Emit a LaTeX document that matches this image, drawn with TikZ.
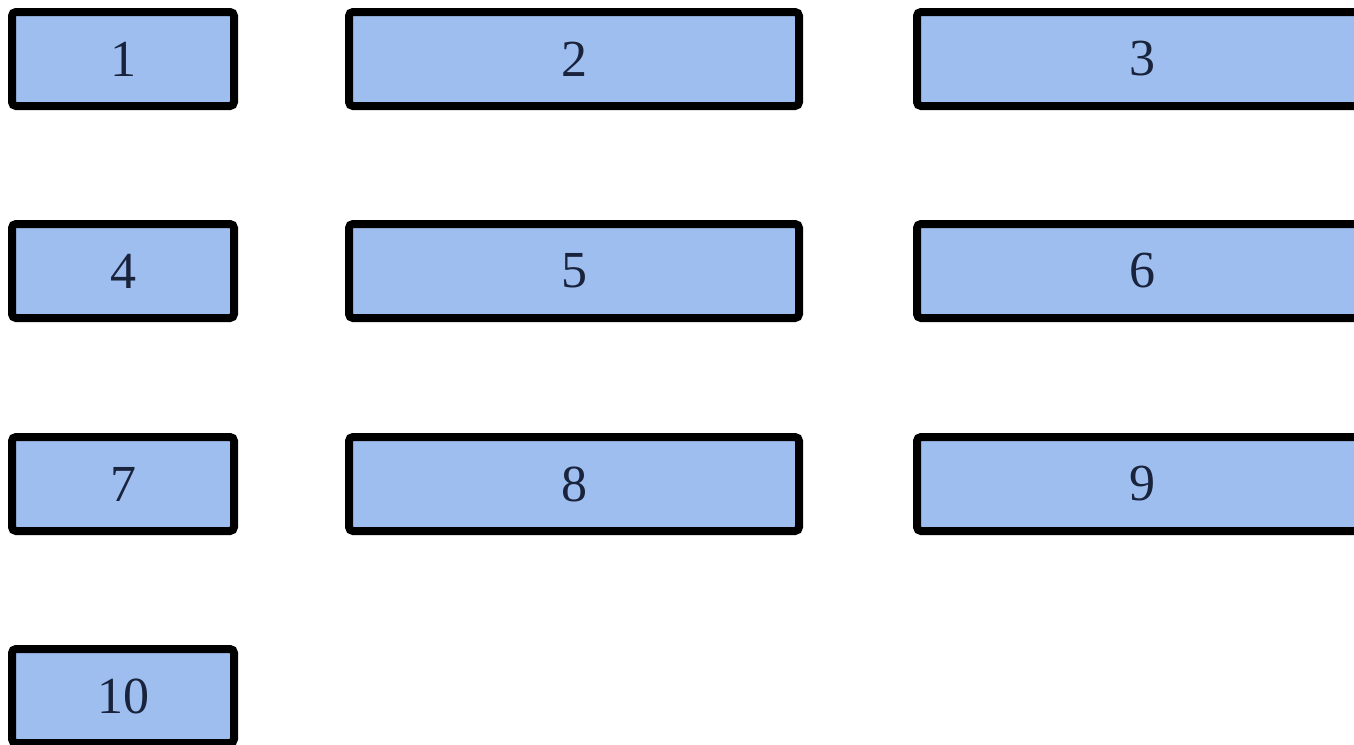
\documentclass[tikz,border=0pt]{standalone}
\usepackage{fontspec}
\setmainfont{Liberation Serif}
\usepackage{tikz}

\definecolor{boxfill}{RGB}{159,190,240}
\definecolor{boxtext}{RGB}{25,35,60}

\begin{document}
\begin{tikzpicture}[
    x=1pt, y=-1pt,
    cell/.style={rectangle, draw=black, fill=boxfill, line width=8pt, rounded corners=4pt,
        minimum height=94pt, inner sep=0pt, text=boxtext, font=\fontsize{52}{60}\selectfont},
    narrow/.style={cell, minimum width=222pt},
    wide/.style={cell, minimum width=450pt}
]
\useasboundingbox (0,0) rectangle (1354,744);
\clip (0,0) rectangle (1354,744);

\node[narrow] (n1) at (123,59) {1};
\node[wide] (n2) at (574,59) {2};
\node[wide] (n3) at (1142,59) {3};

\node[narrow] (n4) at (123,271) {4};
\node[wide] (n5) at (574,271) {5};
\node[wide] (n6) at (1142,271) {6};

\node[narrow] (n7) at (123,484) {7};
\node[wide] (n8) at (574,484) {8};
\node[wide] (n9) at (1142,484) {9};

\node[narrow] (n10) at (123,696) {10};
\end{tikzpicture}
\end{document}
